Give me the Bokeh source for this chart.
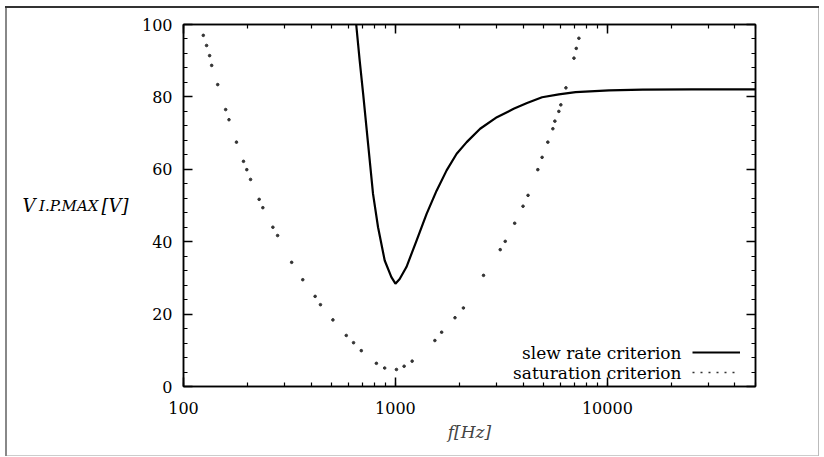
from bokeh.plotting import figure
from bokeh.models import (LogAxis, LinearAxis, Range1d, LogTicker, SingleIntervalTicker, FixedTicker,
                          PrintfTickFormatter, CustomJSTickFormatter, Legend, LegendItem, Label)
from bokeh.embed import file_html
from bokeh.resources import INLINE

# ---- data ----
slew_freq = [653, 678, 704, 743, 784, 828, 890, 957, 1000, 1047, 1127, 1258, 1403, 1564,
             1744, 1945, 2169, 2510, 3012, 3612, 4179, 4920, 5902, 7080, 10190, 14660,
             25000, 50000]
slew_volt = [100, 90.1, 80.9, 67.0, 53.2, 44.0, 34.8, 30.2, 28.4, 29.7, 33.0, 40.3, 47.7, 54.1,
             59.7, 64.3, 67.5, 71.2, 74.4, 76.7, 78.3, 79.9, 80.7, 81.3, 81.8, 82.0,
             82.1, 82.1]

sat_freq = [124.0, 128.5, 132.8, 135.8, 145.0, 158.1, 163.9, 177.8, 191.9, 198.9, 207.2,
            227.5, 236.8, 264.1, 278.0, 323.8, 365.4, 417.9, 442.8, 507.0, 586.2, 634.4,
            690.1, 813.1, 889.7, 1011, 1099, 1199, 1535, 1652, 1910, 2093, 2604, 3122,
            3297, 3653, 4000, 4224, 4697, 4921, 5237, 5531, 5653, 5903, 6032, 6375,
            6957, 7132, 7339]
sat_volt = [97.0, 94.2, 91.4, 88.7, 83.4, 76.5, 73.7, 67.5, 62.2, 59.9, 57.2,
            51.7, 49.4, 44.0, 41.7, 34.3, 29.5, 24.9, 22.6, 18.4, 14.1, 12.1,
            9.9, 6.4, 5.1, 4.7, 5.6, 7.0, 12.7, 15.0, 19.0, 21.7, 30.7, 37.8,
            40.1, 45.1, 49.8, 52.8, 59.9, 63.3, 67.5, 71.2, 73.3, 76.0, 77.8, 82.5,
            90.7, 93.4, 96.2]

x_start, x_end = 100, 50000
y_start, y_end = 0, 100
series_names = ["slew rate criterion", "saturation criterion"]
x_title = "f[Hz]"
y_title_main, y_title_sub, y_title_unit = "V", "I.P.MAX", "[V]"

SERIF = "DejaVu Serif"

p = figure(width=824, height=457, x_axis_type="log",
           x_range=Range1d(x_start, x_end), y_range=Range1d(y_start, y_end),
           output_backend="svg", toolbar_location=None,
           min_border_left=183, min_border_right=69, min_border_top=24, min_border_bottom=71)
p.border_fill_color = None
p.background_fill_color = "white"
p.styles = {"box-shadow": ("inset 0 6px 0 white, inset 5px 0 0 white, inset -5px 0 0 white, "
                           "inset 0 -1px 0 white, inset 0 8px 0 #333, inset 7px 0 0 #888, "
                           "inset -6px 0 0 #bbb, inset 0 -2px 0 #ccc"),
            "background": "white"}
p.grid.visible = False
p.outline_line_color = "black"
p.outline_line_width = 1.5

xticker = LogTicker(mantissas=[1], desired_num_ticks=3, num_minor_ticks=10)
yticker = SingleIntervalTicker(interval=20, num_minor_ticks=5)
blank = CustomJSTickFormatter(code="return ''")

def style_axis(ax):
    ax.axis_line_width = 1.5
    ax.axis_line_color = "black"
    ax.major_tick_in = 9
    ax.major_tick_out = 0
    ax.minor_tick_in = 4
    ax.minor_tick_out = 0
    ax.major_tick_line_width = 1.5
    ax.minor_tick_line_width = 1.2
    ax.major_label_text_font = SERIF
    ax.major_label_text_font_size = "16px"
    ax.major_label_text_color = "black"

xa = p.xaxis[0]
style_axis(xa)
xa.ticker = xticker
xa.formatter = PrintfTickFormatter(format="%d")
xa.major_label_standoff = 15
xa.axis_label = x_title
xa.axis_label_text_font = SERIF
xa.axis_label_text_font_style = "italic"
xa.axis_label_text_font_size = "17px"
xa.axis_label_standoff = 5

ya = p.yaxis[0]
style_axis(ya)
ya.ticker = yticker
ya.major_label_standoff = 11

top = LogAxis(ticker=xticker, formatter=blank)
style_axis(top)
p.add_layout(top, "above")
right = LinearAxis(ticker=yticker, formatter=blank)
style_axis(right)
p.add_layout(right, "right")

# horizontal y-axis title built from label-only axes (unit, subscript, main letter)
def title_axis(text, size, standoff):
    ax = LinearAxis(ticker=FixedTicker(ticks=[]), formatter=blank)
    ax.axis_line_color = None
    ax.major_tick_line_color = None
    ax.minor_tick_line_color = None
    ax.major_tick_out = 0
    ax.minor_tick_out = 0
    ax.major_label_standoff = 0
    ax.axis_label = text
    ax.axis_label_orientation = "horizontal"
    ax.axis_label_standoff = standoff
    ax.axis_label_text_font = SERIF
    ax.axis_label_text_font_style = "italic"
    ax.axis_label_text_font_size = size
    ax.axis_label_text_color = "black"
    return ax

p.add_layout(title_axis(y_title_unit, "18px", 10), "left")
p.add_layout(title_axis(y_title_sub, "15px", 0), "left")
p.add_layout(title_axis(y_title_main, "18px", 1), "left")

slew = p.line(slew_freq, slew_volt, line_width=2.2, color="black")
p.scatter(sat_freq, sat_volt, size=2.6, color="#333333")
dots_key = p.line(sat_freq, sat_volt, line_dash="2 6", line_width=1.6, color="#333333",
                  visible=False)

legend = Legend(items=[LegendItem(label="", renderers=[slew]),
                       LegendItem(label="", renderers=[dots_key])],
                location=(509, 4), glyph_width=48, glyph_height=20, label_width=0,
                label_height=20, label_standoff=0, padding=0, margin=0, spacing=0,
                border_line_color=None, background_fill_alpha=0, inactive_fill_alpha=0)
p.add_layout(legend)

p.add_layout(Label(x=498, y=34, x_units="screen", y_units="screen", text=series_names[0],
                   text_align="right", text_baseline="middle", text_font=SERIF,
                   text_font_size="17px", text_color="black"))
p.add_layout(Label(x=498, y=14, x_units="screen", y_units="screen", text=series_names[1],
                   text_align="right", text_baseline="middle", text_font=SERIF,
                   text_font_size="17px", text_color="black"))

open("out.html", "w").write(file_html(p, INLINE))
